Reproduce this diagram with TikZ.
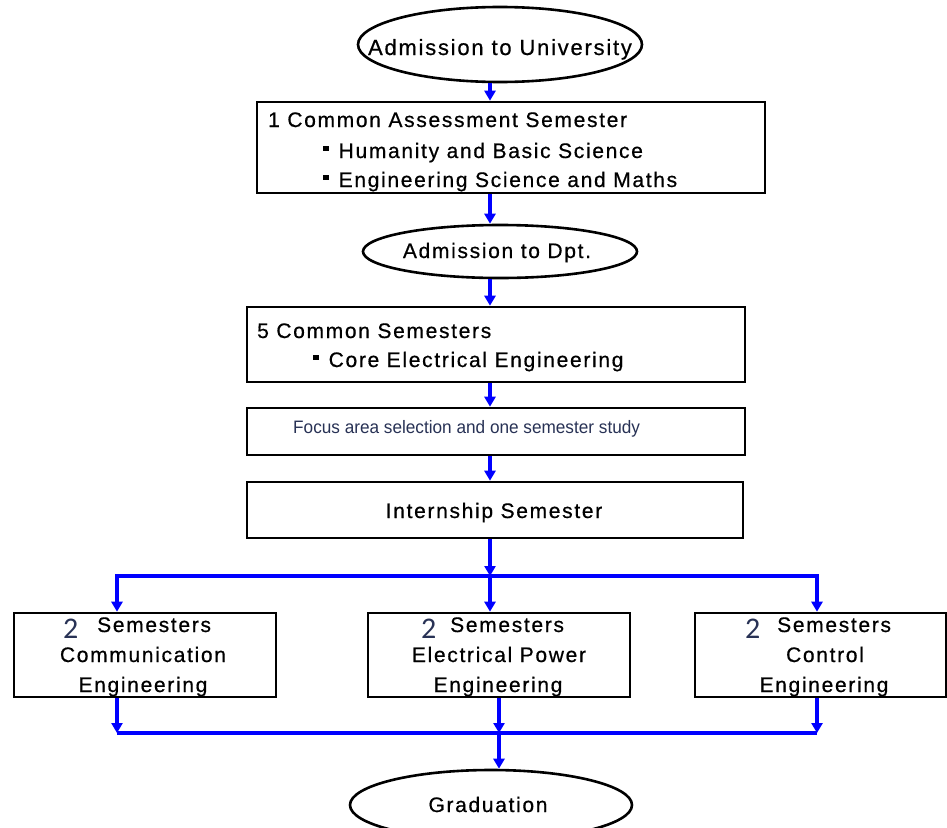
\documentclass[tikz,border=0pt]{standalone}
\usepackage{fontspec}
\usepackage{graphicx}
\setmainfont{Liberation Sans}[LetterSpace=8,FakeBold=0.6]
\newfontfamily\plainsans{Liberation Sans}
\newfontfamily\digitfont{Carlito}
\usetikzlibrary{shapes.geometric,arrows.meta}

\definecolor{flowblue}{RGB}{0,0,255}
\definecolor{inkblue}{RGB}{40,50,85}

% small square bullet used in the box lists
\newcommand\sqbullet{\rule[7pt]{5.5pt}{5.5pt}\hspace{10pt}}
% the large "2" in front of each specialisation
\newcommand\bigtwo{{\digitfont\fontsize{30}{30}\selectfont\color{inkblue}2}}

\tikzset{
  stagebox/.style={draw=black, line width=2.6pt, inner sep=0pt, fill=white},
  stageoval/.style={ellipse, draw=black, line width=2.6pt, inner sep=0pt, fill=white},
  txt/.style={inner sep=0pt, font=\fontsize{21}{30}\selectfont},
  conn/.style={draw=flowblue, line width=3.2pt,
               -{Triangle[width=11pt,length=10pt]}},
  wire/.style={draw=flowblue, line width=3.2pt},
}

\begin{document}
\begin{tikzpicture}[x=1pt,y=-1pt]
\clip (0,0) rectangle (947,827);
\fill[white] (0,0) rectangle (947,827);

% column positions of the connectors
\coordinate (spine) at (490,0);
\coordinate (colA) at (117,0);
\coordinate (colB) at (499,0);
\coordinate (colC) at (817,0);
\coordinate (split) at (490,576);
\coordinate (merge) at (499,733);

% ---------- stages ----------
\node[stageoval, minimum width=284pt, minimum height=75pt] (e1) at (500,44.5) {};
\node[txt, anchor=base, font=\fontsize{22}{30}\selectfont] (t1) at (500,55) {Admission to University};

\node[stagebox, minimum width=508pt, minimum height=91pt] (b1) at (511,147.5) {};
\node[txt, anchor=base west] (t2a) at (268,127) {1 Common Assessment Semester};
\node[txt, anchor=base west] (t2b) at (323,158) {\sqbullet Humanity and Basic Science};
\node[txt, anchor=base west] (t2c) at (323,187) {\sqbullet Engineering Science and Maths};

\node[stageoval, minimum width=274pt, minimum height=53pt] (e2) at (500,251.5) {};
\node[txt, anchor=base] (t3) at (497,258) {Admission to Dpt.};

\node[stagebox, minimum width=498pt, minimum height=75pt] (b2) at (496,344.5) {};
\node[txt, anchor=base west] (t4a) at (257,338) {5 Common Semesters};
\node[txt, anchor=base west] (t4b) at (313,367) {\sqbullet Core Electrical Engineering};

\node[stagebox, minimum width=498pt, minimum height=47pt] (b3) at (496,431.5) {};
\node[inner sep=0pt, anchor=base west, text=inkblue] (t5) at (293,433)
  {\plainsans\fontsize{18}{22}\selectfont\scalebox{0.955}[1]{Focus area selection and one semester study}};

\node[stagebox, minimum width=496pt, minimum height=56pt] (b4) at (495,510) {};
\node[txt, anchor=base] (t6) at (494,518) {Internship Semester};

% ---------- specialisations ----------
\node[stagebox, minimum width=262pt, minimum height=84pt] (bA) at (145,655) {};
\node[inner sep=0pt, anchor=base west] (nA) at (63,638) {\bigtwo};
\node[txt, anchor=base west] (sA) at (97,632) {Semesters};
\node[txt, anchor=base] (lA1) at (143,662) {Communication};
\node[txt, anchor=base] (lA2) at (143,692) {Engineering};

\node[stagebox, minimum width=262pt, minimum height=84pt] (bB) at (499,655) {};
\node[inner sep=0pt, anchor=base west] (nB) at (421,638) {\bigtwo};
\node[txt, anchor=base west] (sB) at (450,632) {Semesters};
\node[txt, anchor=base] (lB1) at (499,662) {Electrical Power};
\node[txt, anchor=base] (lB2) at (498,692) {Engineering};

\node[stagebox, minimum width=251pt, minimum height=84pt] (bC) at (820.5,655) {};
\node[inner sep=0pt, anchor=base west] (nC) at (745,638) {\bigtwo};
\node[txt, anchor=base west] (sC) at (777,632) {Semesters};
\node[txt, anchor=base] (lC1) at (825,662) {Control};
\node[txt, anchor=base] (lC2) at (824,692) {Engineering};

% ---------- end ----------
\node[stageoval, minimum width=282pt, minimum height=70pt] (e3) at (491,805) {};
\node[txt, anchor=base] (t7) at (488,812) {Graduation};

% ---------- connectors ----------
\draw[conn] (e1.south -| spine) -- (b1.north -| spine);
\draw[conn] (b1.south -| spine) -- (e2.north -| spine);
\draw[conn] (e2.south -| spine) -- (b2.north -| spine);
\draw[conn] (b2.south -| spine) -- (b3.north -| spine);
\draw[conn] (b3.south -| spine) -- (b4.north -| spine);
\draw[conn] (b4.south -| spine) -- (split);

\draw[conn] (split) -| (bA.north -| colA);
\draw[conn] (split) -| (bC.north -| colC);
\draw[conn] (split) -- (bB.north -| spine);

\draw[conn] (bA.south -| colA) -- (merge -| colA);
\draw[conn] (bB.south -| colB) -- (merge);
\draw[conn] (bC.south -| colC) -- (merge -| colC);
\draw[wire] (merge -| colA) -- (merge -| colC);
\draw[conn] (merge) -- (e3.north -| colB);
\end{tikzpicture}
\end{document}
